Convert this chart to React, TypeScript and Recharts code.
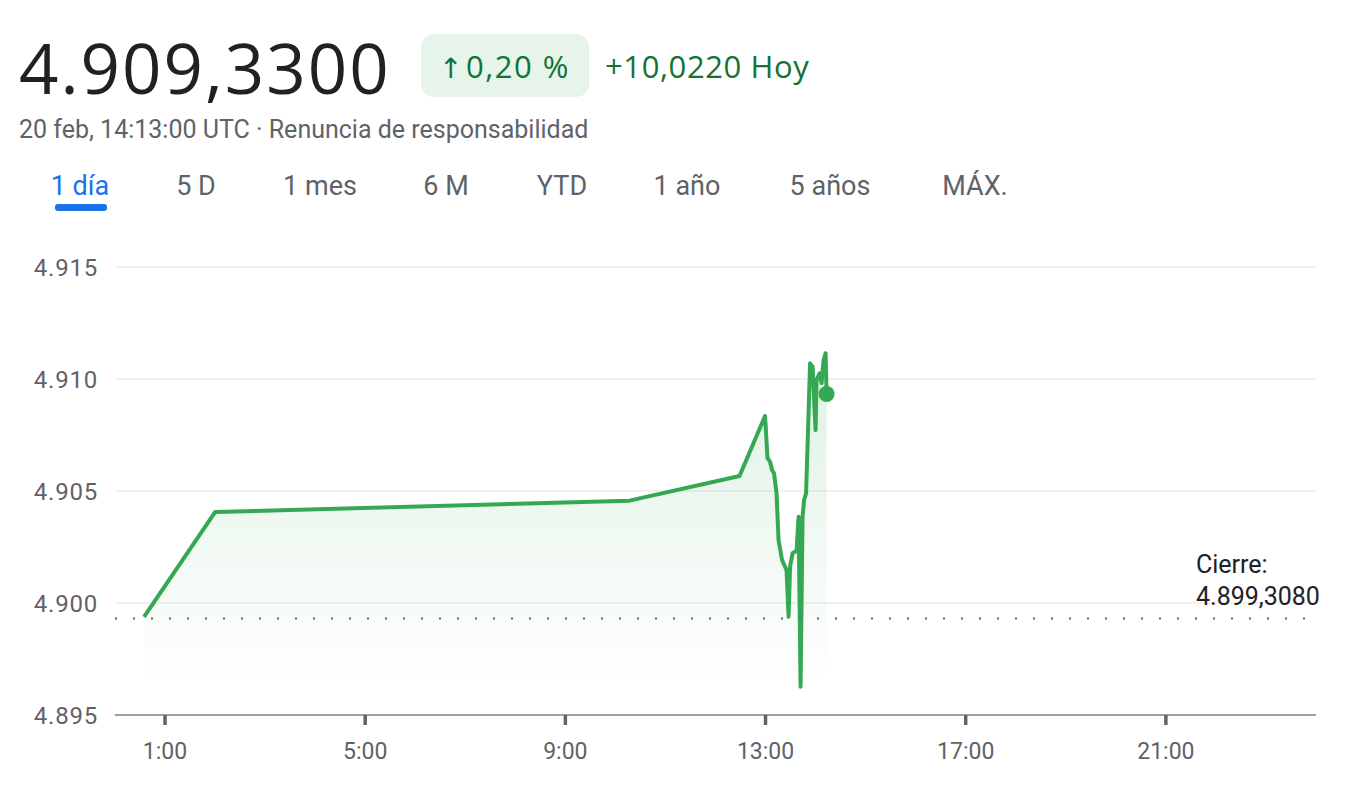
import {
  ComposedChart,
  Area,
  XAxis,
  YAxis,
  CartesianGrid,
  ReferenceLine,
  ReferenceDot,
} from 'recharts'

// hora del día (decimal) y precio
const hours = [
  0.58, 2.0, 10.28, 12.48, 12.99, 13.04, 13.09, 13.13, 13.17, 13.22, 13.26,
  13.33, 13.42, 13.46, 13.49, 13.54, 13.62, 13.66, 13.7, 13.74, 13.77, 13.81,
  13.89, 13.94, 14.0, 14.02, 14.08, 14.12, 14.16, 14.2, 14.22,
]
const prices = [
  4.89938, 4.90406, 4.90457, 4.90567, 4.90835, 4.90646, 4.90631, 4.90594,
  4.90579, 4.9049, 4.90281, 4.90192, 4.90147, 4.89939, 4.90162, 4.90222,
  4.90233, 4.90385, 4.89626, 4.90385, 4.9046, 4.9049, 4.9107, 4.91055, 4.90772,
  4.90996, 4.91025, 4.90982, 4.91085, 4.91115, 4.90933,
]

const xTicks = [1, 5, 9, 13, 17, 21]
const xTickLabels = ['1:00', '5:00', '9:00', '13:00', '17:00', '21:00']
const yTicks = [4.895, 4.9, 4.905, 4.91, 4.915]
const yTickLabels = ['4.895', '4.900', '4.905', '4.910', '4.915']

const closeValue = 4.899308
const closeText = '4.899,3080'
const lastPrice = 4.90933
const lastHour = 14.22

const tabs = ['1 día', '5 D', '1 mes', '6 M', 'YTD', '1 año', '5 años', 'MÁX.']
const tabCenters = [80, 196, 320, 446, 562, 687, 830, 975]

const data = hours.map((h, i) => ({ h, price: prices[i] }))

const GREEN = '#34a853'
const GRAY = '#5f6368'

function CloseLabel(props: any) {
  const vb = props.viewBox || {}
  const x = vb.x + vb.width - 120
  const y = vb.y
  return (
    <g>
      <text x={x} y={y - 46} fill="#202124" fontSize={25} fontFamily="Roboto">
        Cierre:
      </text>
      <text x={x} y={y - 14} fill="#202124" fontSize={25} fontFamily="Roboto">
        {closeText}
      </text>
    </g>
  )
}

function Header() {
  return (
    <svg
      width={1368}
      height={230}
      style={{ position: 'absolute', left: 0, top: 0, pointerEvents: 'none' }}
    >
      <text
        x={19}
        y={94}
        fill="#202124"
        fontSize={69}
        fontFamily="'Open Sans'"
        letterSpacing={2}
      >
        4.909,3300
      </text>
      <rect x={421} y={34} width={168} height={63} rx={13} fill="#e6f4ea" />
      <text x={439} y={78} fill="#137333" fontSize={28} fontFamily="'DejaVu Sans'">
        ↑
      </text>
      <text
        x={466}
        y={78}
        fill="#137333"
        fontSize={31}
        fontFamily="'Open Sans'"
        fontWeight={500}
        letterSpacing={1.5}
      >
        0,20 %
      </text>
      <text
        x={605}
        y={78}
        fill="#137333"
        fontSize={31}
        fontFamily="'Open Sans'"
        fontWeight={500}
        letterSpacing={0.6}
      >
        +10,0220 Hoy
      </text>
      <text x={19} y={138} fill={GRAY} fontSize={25} fontFamily="Roboto">
        20 feb, 14:13:00 UTC · Renuncia de responsabilidad
      </text>
      {tabs.map((t, i) => (
        <text
          key={t}
          x={tabCenters[i]}
          y={195}
          textAnchor="middle"
          fill={i === 0 ? '#1a73e8' : GRAY}
          fontSize={27}
          fontFamily="Roboto"
        >
          {t}
        </text>
      ))}
      <rect x={55} y={204} width={52} height={7} rx={3} fill="#1a73e8" />
    </svg>
  )
}

export default function App() {
  return (
    <div
      style={{
        position: 'absolute',
        left: 0,
        top: 0,
        width: 1368,
        height: 792,
        background: '#fff',
        overflow: 'hidden',
      }}
    >
      <div style={{ position: 'absolute', left: 0, top: 0 }}>
        <ComposedChart
          width={1368}
          height={792}
          data={data}
          margin={{ top: 267, right: 52, bottom: 27, left: 35 }}
        >
          <defs>
            <linearGradient id="priceFill" x1="0" y1="0" x2="0" y2="1">
              <stop offset="0%" stopColor={GREEN} stopOpacity={0.27} />
              <stop offset="92%" stopColor={GREEN} stopOpacity={0} />
            </linearGradient>
          </defs>
          <CartesianGrid
            horizontal
            vertical={false}
            stroke="#ececec"
            strokeWidth={1.5}
          />
          <XAxis
            dataKey="h"
            type="number"
            domain={[0, 24]}
            ticks={xTicks}
            tickFormatter={(v: number) => xTickLabels[xTicks.indexOf(v)]}
            height={50}
            stroke="#9aa0a6"
            axisLine={{ stroke: '#9aa0a6', strokeWidth: 2 }}
            tickLine={{ stroke: GRAY, strokeWidth: 3.5 }}
            tickSize={10}
            tickMargin={18}
            tick={{ fill: GRAY, fontSize: 23, fontFamily: 'Roboto' }}
            allowDataOverflow
          />
          <YAxis
            type="number"
            domain={[4.895, 4.915]}
            ticks={yTicks}
            tickFormatter={(v: number) => yTickLabels[yTicks.indexOf(v)]}
            width={80}
            axisLine={false}
            tickLine={false}
            tickSize={6}
            tickMargin={11}
            tick={{
              fill: GRAY,
              fontSize: 24,
              fontFamily: 'Roboto',
              letterSpacing: 0.8,
            }}
            allowDataOverflow
          />
          <Area
            type="linear"
            dataKey="price"
            stroke={GREEN}
            strokeWidth={4}
            strokeLinejoin="round"
            fill="url(#priceFill)"
            dot={false}
            activeDot={false}
            isAnimationActive={false}
          />
          <ReferenceLine
            y={closeValue}
            stroke={GRAY}
            strokeWidth={2}
            strokeDasharray="2 16"
            label={<CloseLabel />}
          />
          <ReferenceDot
            x={lastHour}
            y={lastPrice}
            r={8}
            fill={GREEN}
            stroke="none"
          />
        </ComposedChart>
      </div>
      <Header />
    </div>
  )
}
